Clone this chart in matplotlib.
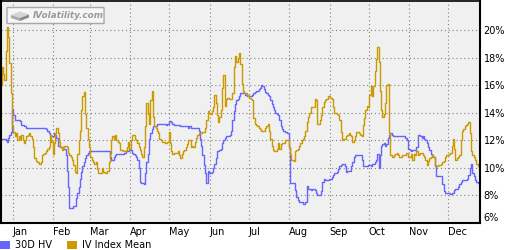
import matplotlib
matplotlib.use("Agg")
import matplotlib.pyplot as plt
import matplotlib.dates as mdates
from matplotlib.patches import Rectangle, FancyBboxPatch, Polygon
from matplotlib.ticker import FuncFormatter
import pandas as pd

# daily values, first day 2014-12-23
start = "2014-12-23"

hv = [12.1, 12.1, 12.1, 12.1, 12.0, 11.9, 12.2, 12.4, 12.6,
      14.3, 13.8, 13.5, 13.5, 13.5, 13.5, 13.4, 13.1, 13.1, 13.0,
      13.0, 12.9, 12.9, 12.9, 12.9, 12.9, 12.9, 12.9, 12.9, 12.9,
      12.9, 12.9, 12.9, 12.9, 12.9, 12.9, 12.8, 12.7, 12.5, 12.4,
      12.3, 12.3, 12.5, 12.4, 12.2, 11.6, 11.6, 11.5, 11.5, 11.4,
      11.4, 10.9, 9.8, 8.6, 7.1, 7.1, 7.1, 7.2, 7.2, 7.8,
      8.2, 8.6, 9.2, 9.7, 10.1, 10.4, 10.7, 10.9, 11.1, 11.2,
      11.2, 11.2, 11.2, 11.2, 11.2, 11.2, 11.2, 11.2, 11.2, 11.2,
      11.2, 11.2, 11.2, 11.2, 11.2, 10.8, 10.6, 10.6, 10.8, 10.9,
      11.0, 11.0, 11.0, 11.0, 11.0, 11.0, 11.1, 11.2, 11.2, 11.2,
      11.3, 11.3, 11.1, 11.0, 10.9, 10.8, 10.6, 10.0, 9.0, 8.9,
      8.9, 8.8, 9.6, 10.4, 11.0, 12.1, 12.5, 12.8, 13.0, 13.0,
      13.0, 13.2, 13.2, 13.2, 13.2, 13.2, 13.2, 13.2, 13.1, 13.2,
      13.4, 13.4, 13.3, 13.2, 13.1, 13.1, 13.1, 13.1, 13.1, 13.0,
      13.0, 13.0, 13.0, 13.0, 13.0, 12.9, 13.0, 12.9, 12.9, 12.9,
      12.9, 12.9, 12.9, 12.7, 12.1, 11.6, 10.9, 10.2, 9.6, 8.9,
      9.8, 9.6, 9.6, 9.7, 10.0, 10.3, 10.7, 11.2, 11.2, 11.3,
      11.4, 11.8, 12.0, 12.2, 12.3, 12.3, 12.3, 12.4, 12.7, 13.5,
      14.1, 14.6, 14.9, 15.0, 15.2, 15.4, 15.4, 15.4, 15.4, 15.3,
      15.2, 15.2, 15.2, 15.2, 15.3, 15.4, 15.5, 15.6, 15.6, 15.7,
      15.8, 16.0, 15.9, 15.7, 15.5, 15.4, 15.3, 15.2, 14.9, 14.6,
      14.4, 14.2, 14.0, 13.9, 13.8, 13.5, 13.0, 12.8, 12.7, 12.6,
      12.6, 12.5, 11.5, 8.9, 8.9, 8.9, 8.9, 8.4, 7.9, 7.7,
      7.5, 7.5, 7.5, 7.4, 7.4, 7.5, 8.7, 8.5, 8.5, 8.4,
      8.5, 8.5, 8.4, 8.2, 8.0, 8.0, 8.0, 8.3, 9.0, 9.2,
      9.1, 9.1, 9.1, 9.2, 9.2, 9.3, 9.5, 9.6, 9.6, 9.7,
      9.9, 10.1, 10.2, 10.3, 10.3, 10.1, 9.7, 9.8, 9.8, 9.8,
      10.1, 10.4, 10.8, 10.9, 10.9, 10.9, 10.9, 10.9, 10.6, 10.1,
      10.1, 10.1, 10.1, 10.2, 10.2, 10.1, 10.3, 10.3, 10.4, 10.6,
      11.0, 10.0, 10.9, 11.6, 11.7, 11.8, 11.6, 11.7, 12.2, 12.4,
      12.5, 12.4, 12.3, 12.3, 12.3, 12.3, 12.3, 12.3, 12.3, 12.3,
      12.3, 12.2, 12.2, 12.0, 11.4, 11.3, 11.2, 11.3, 11.3, 11.3,
      11.5, 12.4, 12.4, 12.3, 12.2, 12.3, 12.1, 12.0, 11.8, 11.5,
      11.3, 11.0, 10.9, 10.8, 10.1, 9.4, 9.4, 9.4, 9.4, 9.4,
      8.8, 8.3, 8.2, 8.2, 8.2, 8.2, 8.1, 8.2, 8.2, 8.4,
      8.5, 8.5, 8.6, 8.8, 9.0, 9.1, 9.1, 9.1, 9.1, 9.2,
      9.5, 10.0, 10.3, 9.6, 9.4, 9.1, 9.0, 8.9, 8.8]

iv = [16.0, 17.3, 16.8, 16.4, 18.5, 20.2, 19.5, 17.6, 15.4,
      13.0, 12.6, 12.3, 12.5, 12.0, 12.3, 12.1, 12.4, 12.0, 11.8,
      12.0, 12.3, 12.4, 12.5, 12.3, 12.1, 11.5, 10.7, 10.5, 10.4,
      10.4, 10.3, 10.4, 10.9, 11.0, 11.1, 11.2, 11.4, 11.5, 12.4,
      11.9, 11.0, 11.8, 12.5, 12.9, 12.5, 11.9, 11.5, 11.3, 11.5,
      11.6, 11.6, 11.5, 11.1, 10.9, 10.8, 10.6, 10.2, 9.7, 9.6,
      11.0, 12.0, 12.7, 14.2, 15.2, 15.5, 13.9, 12.9, 12.1, 11.5,
      10.8, 10.6, 10.4, 10.3, 10.4, 9.9, 9.6, 9.6, 9.6, 10.0,
      9.7, 9.6, 9.6, 9.8, 10.4, 11.0, 12.0, 12.3, 12.1, 12.4,
      12.0, 11.9, 11.8, 11.3, 11.3, 11.2, 11.2, 11.3, 11.5, 11.9,
      11.4, 12.0, 12.4, 12.4, 12.1, 12.0, 11.8, 11.5, 11.3, 11.0,
      10.8, 11.5, 13.0, 14.7, 13.9, 13.2, 14.9, 15.6, 13.7, 13.0,
      12.9, 12.7, 12.5, 12.1, 12.0, 11.9, 11.9, 11.8, 11.8, 11.9,
      12.6, 11.8, 11.2, 11.0, 11.1, 11.1, 11.1, 11.2, 10.9, 10.7,
      11.0, 11.2, 11.3, 11.5, 11.7, 12.0, 12.0, 11.5, 11.6, 11.5,
      11.9, 12.2, 12.4, 12.5, 12.5, 12.5, 12.6, 12.6, 12.9, 13.5,
      14.1, 14.0, 13.9, 14.1, 14.4, 15.3, 14.7, 13.8, 13.3, 13.7,
      14.2, 15.8, 16.7, 14.5, 15.0, 15.1, 15.0, 15.0, 15.0, 15.4,
      17.3, 18.1, 17.7, 18.0, 18.3, 17.5, 16.1, 15.6, 15.4, 15.4,
      15.3, 15.2, 15.1, 15.0, 14.9, 13.6, 13.2, 13.1, 13.0, 12.9,
      12.8, 12.7, 12.7, 12.7, 12.9, 13.0, 13.2, 12.7, 12.1, 11.6,
      11.3, 11.2, 11.2, 11.4, 11.8, 11.4, 11.7, 11.8, 11.8, 12.0,
      12.0, 12.0, 11.5, 11.0, 10.6, 10.6, 10.5, 11.2, 11.3, 11.4,
      11.6, 11.8, 12.0, 12.1, 12.3, 12.7, 13.3, 13.7, 14.0, 14.4,
      14.4, 14.4, 15.0, 14.9, 13.2, 13.2, 13.5, 13.8, 14.4, 14.8,
      14.9, 15.0, 15.2, 15.2, 15.1, 15.0, 14.4, 14.0, 14.0, 13.9,
      13.8, 13.5, 12.6, 12.0, 12.1, 12.1, 12.3, 12.4, 12.5, 12.4,
      12.3, 11.9, 12.0, 12.3, 12.6, 12.6, 12.5, 12.4, 12.3, 13.1,
      13.6, 14.2, 14.5, 14.4, 15.3, 15.9, 15.2, 15.9, 17.0, 17.9,
      18.8, 17.7, 15.6, 14.2, 13.7, 13.9, 14.7, 16.0, 16.1, 12.5,
      10.9, 10.8, 10.8, 10.9, 11.0, 11.1, 10.9, 10.8, 10.8, 10.9,
      10.9, 10.9, 11.1, 11.1, 10.8, 10.8, 11.0, 10.6, 11.0, 10.9,
      11.2, 10.9, 11.0, 11.1, 11.1, 10.9, 10.8, 10.6, 10.2, 10.5,
      10.7, 10.8, 10.9, 10.8, 10.2, 10.1, 10.1, 10.2, 10.2, 10.3,
      10.4, 10.5, 10.8, 10.9, 10.9, 11.0, 11.1, 11.6, 12.1, 11.4,
      10.6, 10.7, 10.8, 10.9, 12.0, 12.7, 12.8, 13.0, 13.1, 13.2,
      13.3, 12.5, 11.2, 10.9, 10.8, 10.6, 10.3, 10.1, 10.0]

months = ["Jan", "Feb", "Mar", "Apr", "May", "Jun",
          "Jul", "Aug", "Sep", "Oct", "Nov", "Dec"]
yticks = [6, 8, 10, 12, 14, 16, 18, 20]

dates = pd.date_range(start, periods=len(hv), freq="D")
month_starts = pd.date_range("2015-01-01", periods=12, freq="MS")

W, H = 520, 250
fig = plt.figure(figsize=(W / 100, H / 100), dpi=100)
fig.patch.set_facecolor("white")
ax = fig.add_axes([1 / W, 27 / H, 479 / W, 222 / H])
ax.set_facecolor("#f0f0f0")

ax.plot(dates, hv, color="#6666ff", lw=1.0, drawstyle="steps-mid")
ax.plot(dates, iv, color="#cc9900", lw=1.0, drawstyle="steps-mid")

ax.set_xlim(dates[0], dates[-1] + pd.Timedelta(hours=8))
ax.set_ylim(6, 22.1)

ax.set_xticks(month_starts)
ax.set_xticklabels(months)
for lbl in ax.get_xticklabels():
    lbl.set_ha("left")
ax.tick_params(axis="x", length=0, pad=3, labelsize=7)

ax.yaxis.tick_right()
ax.set_yticks(yticks)
ax.yaxis.set_major_formatter(FuncFormatter(lambda v, p: "%d%%" % v))
ax.tick_params(axis="y", length=0, pad=2.5, labelsize=7)
ax.get_yticklabels()[0].set_va("bottom")

ax.grid(True, color="#808080", lw=0.8, linestyle=(0, (1, 2.5)))
for s in ax.spines.values():
    s.set_color("black")
    s.set_linewidth(1.5)
ax.spines["top"].set_linewidth(1.2)

# watermark
def px(x, y):
    return (x / W, 1 - y / H)

box = FancyBboxPatch(px(8, 23), 95 / W, 15 / H, boxstyle="round,pad=0.002",
                     transform=fig.transFigure, facecolor="#f6f6f6",
                     edgecolor="#a8a8a8", lw=1)
fig.add_artist(box)
top = Polygon([px(11, 15), px(20, 11.5), px(29, 14.5), px(20, 18)],
              transform=fig.transFigure, facecolor="#d4d4d4", edgecolor="none")
left = Polygon([px(11, 15), px(20, 18), px(20, 21), px(11, 18)],
               transform=fig.transFigure, facecolor="#a8a8a8", edgecolor="none")
right = Polygon([px(20, 18), px(29, 14.5), px(29, 17.5), px(20, 21)],
                transform=fig.transFigure, facecolor="#8a8a8a", edgecolor="none")
for p in (top, left, right):
    fig.add_artist(p)
fig.text(*px(33, 15.5), "IVolatility.com", ha="left", va="center",
         fontsize=6.4, style="italic", fontweight="bold", color="#9a9a9a")

# legend
fig.add_artist(Rectangle(px(0, 249), 10 / W, 8 / H, transform=fig.transFigure,
                         facecolor="#6666ff", edgecolor="none"))
fig.text(*px(15, 245), "30D HV", ha="left", va="center", fontsize=7)
fig.add_artist(Rectangle(px(67, 249), 10 / W, 8 / H, transform=fig.transFigure,
                         facecolor="#cc9900", edgecolor="none"))
fig.text(*px(82, 245), "IV Index Mean", ha="left", va="center", fontsize=7)

fig.savefig("out.png", dpi=100)
